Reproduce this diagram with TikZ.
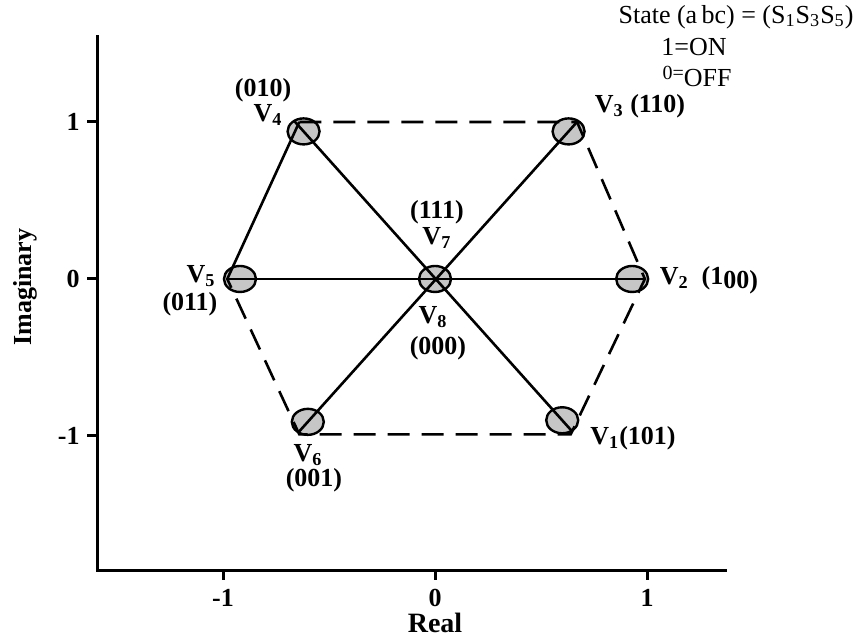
\documentclass[tikz,border=0pt]{standalone}
\usepackage{fontspec}
\setmainfont{Liberation Serif}
\usetikzlibrary{shapes.geometric}

\begin{document}
\begin{tikzpicture}[
  x=106pt, y=78.5pt,
  vtx/.style={
    ellipse,
    draw,
    fill=gray!45,
    line width=1.2pt,
    minimum width=16pt,
    minimum height=13pt,
    inner sep=0pt
  },
  lbl/.style={font=\fontsize{13}{14}\selectfont\bfseries, inner sep=0pt},
  spoke/.style={line width=1.3pt, shorten <=-7pt, shorten >=-7pt},
  side/.style={line width=1.3pt},
  hexdash/.style={line width=1.3pt, dash pattern=on 11pt off 6pt},
  axis/.style={line width=1.5pt}
]
\useasboundingbox (-2.052,-2.287) rectangle (2.033,1.777);

% axes
\coordinate (orig) at (-1.594,-1.854);
\coordinate (ytop) at (-1.594,1.554);
\coordinate (xend) at (1.377,-1.854);
\draw[axis] (ytop) -- (orig) -- (xend);

\draw[axis] (-1,-1.854) -- (-1,-1.918) node[lbl, below=4pt] (xm) {-1};
\draw[axis] (0,-1.854) -- (0,-1.918) node[lbl, below=4pt] (xz) {0};
\draw[axis] (1,-1.854) -- (1,-1.918) node[lbl, below=4pt] (xp) {1};
\draw[axis] (-1.594,1) -- (-1.641,1) node[lbl, left=3pt] (yp) {1};
\draw[axis] (-1.594,0) -- (-1.641,0) node[lbl, left=3pt] (yz) {0};
\draw[axis] (-1.594,-1) -- (-1.641,-1) node[lbl, left=3pt] (ym) {-1};

\node[lbl, font=\fontsize{14}{16}\selectfont\bfseries] (xlab) at (0,-2.19) {Real};
\node[lbl, rotate=90] (ylab) at (-1.934,-0.051) {Imaginary};

% switching states
\node[vtx] (v1) at (0.6,-0.9) {};
\node[vtx] (v2) at (0.93,0) {};
\node[vtx] (v3) at (0.63,0.94) {};
\node[vtx] (v4) at (-0.62,0.94) {};
\node[vtx] (v5) at (-0.92,0) {};
\node[vtx] (v6) at (-0.6,-0.91) {};
\node[vtx] (v7) at (0,0) {};

% hexagon corners
\coordinate (htl) at (-0.64,1.0);
\coordinate (htr) at (0.67,1.0);
\coordinate (hr) at (0.99,0);
\coordinate (hbr) at (0.64,-0.99);
\coordinate (hbl) at (-0.64,-0.99);
\coordinate (hl) at (-0.98,0);

\draw[hexdash] (htl) -- (htr) -- (hr) -- (hbr) -- (hbl) -- (hl);
\draw[side] (hl) -- (htl);

\draw[spoke] (v4.center) -- (v1.center);
\draw[spoke] (v3.center) -- (v6.center);
\draw[spoke] (v5.center) -- (v2.center);

% labels
\node[lbl] (l4s) at (-0.811,1.204) {(010)};
\node[lbl] (l4) at (-0.788,1.045) {V\textsubscript{4}};
\node[lbl] (l3) at (0.967,1.102) {V\textsubscript{3} (110)};
\node[lbl] (l5) at (-1.104,0.019) {V\textsubscript{5}};
\node[lbl] (l5s) at (-1.156,-0.159) {(011)};
\node[lbl] (l7s) at (0.009,0.427) {(111)};
\node[lbl] (l7) at (0.009,0.261) {V\textsubscript{7}};
\node[lbl] (l8) at (-0.009,-0.242) {V\textsubscript{8}};
\node[lbl] (l8s) at (0.014,-0.439) {(000)};
\node[lbl] (l2) at (1.292,-0.006) {V\textsubscript{2}\ \ (1\raisebox{-0.15em}{00)}};
\node[lbl] (l6) at (-0.599,-1.12) {V\textsubscript{6}};
\node[lbl] (l6s) at (-0.571,-1.285) {(001)};
\node[lbl] (l1) at (0.934,-1.013) {V\textsubscript{1}(101)};

% legend
\node[font=\fontsize{13}{15}\selectfont, inner sep=0pt] (state) at (1.42,1.669)
  {State (a\,bc) = (S\textsubscript{1}S\textsubscript{3}S\textsubscript{5})};
\node[font=\fontsize{13}{15}\selectfont, inner sep=0pt] (on) at (1.222,1.478) {1=ON};
\node[font=\fontsize{13}{15}\selectfont, inner sep=0pt] (off) at (1.236,1.287)
  {{\fontsize{10}{12}\selectfont\raisebox{0.35em}{0=}}OFF};
\end{tikzpicture}
\end{document}
